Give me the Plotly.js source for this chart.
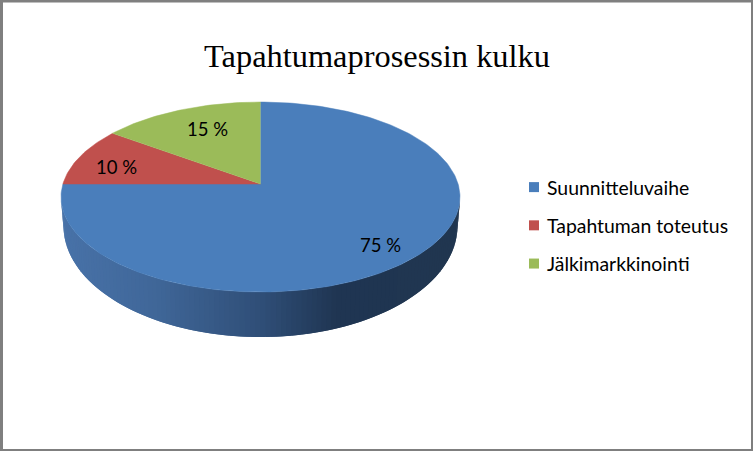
<!DOCTYPE html>
<html><head><meta charset="utf-8">
<script src="https://cdn.plot.ly/plotly-3.0.1.min.js"></script>
<style>html,body{margin:0;padding:0;background:#fff;overflow:hidden}</style>
</head><body><div id="chart" style="width:753px;height:451px"></div>
<script>
const titleText = "Tapahtumaprosessin kulku";
const categories = ["Suunnitteluvaihe", "Tapahtuman toteutus", "Jälkimarkkinointi"];
const values = [75, 10, 15];
const colors = ["#4a7ebb", "#c0504d", "#9bbb59"];
const labelTexts = ["75 %", "10 %", "15 %"];
const labelX = [380, 116, 207];
const labelY = [245, 167, 129];
const wallStops = [[61,[72,114,168]],[150,[64,103,153]],[260,[47,78,119]],[335,[31,53,82]],[460,[32,54,80]]];

// projective view of the pie disc, in axis units
const AX=260.5, AY=184, A=197.6, B=93.2, K=0.137;
function disc(f){ const t=2*Math.PI*f, u=Math.sin(t), v=Math.cos(t), w=1+K*v;
  return [AX+A*u/w, AY-B*v/w]; }
function wallColor(x){
  for(let i=1;i<wallStops.length;i++){ const a=wallStops[i-1], b=wallStops[i];
    if(x<=b[0]){ const s=(x-a[0])/(b[0]-a[0]);
      return 'rgb('+a[1].map((c,j)=>Math.round(c+(b[1][j]-c)*s)).join(',')+')'; } }
  return 'rgb(32,54,80)';
}
const traces=[];
// side wall: each strip runs on under the next one, so no seams show
const N=120, TC=197, TR=199.5, TH=95, BC=226, BR=197, BH=111;
for(let i=0;i<N;i++){
  const p0=Math.PI*(1+i/N), p1=Math.PI*(1+Math.min(N,i+2)/N), pm=Math.PI*(1+(i+1)/N);
  const xs=[AX+TR*Math.cos(p0),AX+TR*Math.cos(pm),AX+TR*Math.cos(p1),AX+BR*Math.cos(p1),AX+BR*Math.cos(pm),AX+BR*Math.cos(p0)];
  const ys=[TC-TH*Math.sin(p0),TC-TH*Math.sin(pm),TC-TH*Math.sin(p1),BC-BH*Math.sin(p1),BC-BH*Math.sin(pm),BC-BH*Math.sin(p0)];
  const c=wallColor(AX+TR*Math.cos(p0));
  traces.push({type:'scatter',mode:'lines',x:xs,y:ys,fill:'toself',fillcolor:c,line:{color:c,width:0},showlegend:false,hoverinfo:'skip'});
}
// top face
const total=values.reduce((a,b)=>a+b,0);
let cum=0;
values.forEach((val,i)=>{
  const xs=[AX], ys=[AY], steps=Math.max(8,Math.round(val*3));
  for(let s=0;s<=steps;s++){ const q=disc((cum+val*s/steps)/total); xs.push(q[0]); ys.push(q[1]); }
  cum+=val;
  traces.push({type:'scatter',mode:'lines',x:xs,y:ys,fill:'toself',fillcolor:colors[i],line:{color:colors[i],width:0.5},showlegend:false,name:categories[i],hoverinfo:'skip'});
});
// legend entries
categories.forEach((c,i)=>traces.push({type:'scatter',mode:'markers',x:[null],y:[null],name:c,legendgroup:c,
  marker:{symbol:'square',size:10,color:colors[i]},showlegend:true}));

const bar=(x0,y0,x1,y1)=>({type:'rect',xref:'x',yref:'y',x0,y0,x1,y1,fillcolor:'#7f7f7f',line:{width:0},layer:'above'});
const layout={
  width:753,height:451,margin:{l:0,r:0,t:0,b:0},paper_bgcolor:'#fff',plot_bgcolor:'#fff',
  xaxis:{range:[0,753],visible:false,fixedrange:true},
  yaxis:{range:[451,0],visible:false,fixedrange:true},
  title:{text:titleText,x:377/753,xanchor:'center',y:1-56/451,yanchor:'middle',font:{family:'"Liberation Serif",serif',size:32.4,color:'#000'}},
  legend:{x:507/753,xanchor:'left',y:1-168/451,yanchor:'top',font:{family:'Lato,sans-serif',size:19.4,color:'#000'},
    tracegroupgap:10,itemwidth:30,bgcolor:'rgba(0,0,0,0)'},
  annotations:labelTexts.map((t,i)=>({text:t,x:labelX[i],y:labelY[i],xref:'x',yref:'y',showarrow:false,xanchor:'center',yanchor:'middle',
    font:{family:'Lato,sans-serif',size:18.5,color:'#000'}})),
  shapes:[bar(0,0,753,2.5),bar(0,449,753,451),bar(0,0,3,451),bar(751,0,753,451)]
};
Plotly.newPlot('chart',traces,layout,{displayModeBar:false,staticPlot:true}).then(()=>{
  document.querySelectorAll('.legendsymbols').forEach(g=>g.setAttribute('transform','translate(7,0)'));
});
</script></body></html>
